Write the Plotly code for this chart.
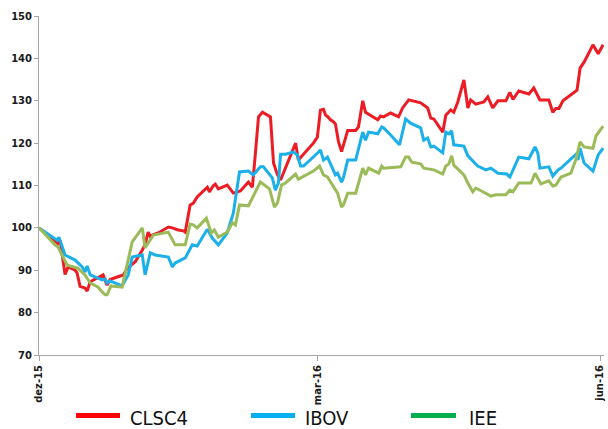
import pandas as pd
import plotly.graph_objects as go

# days since 2015-12-01 and index values (base 100)
clsc4_days = [0.0, 5.2, 6.2, 6.9, 8.5, 9.5, 11.8, 12.4, 13.4, 15.0, 15.7, 16.7, 19.9, 20.9, 22.2, 23.2,
              25.5, 27.5, 28.8, 31.4, 33.7, 34.6, 35.6, 36.3, 37.3, 38.9, 42.2, 43.5, 45.4, 47.1, 47.7,
              49.3, 50.3, 51.6, 54.9, 55.6, 56.9, 57.5, 58.5, 61.4, 63.4, 64.7, 65.7, 68.3, 69.6, 70.6,
              71.6, 72.9, 75.5, 76.5, 77.8, 78.8, 83.7, 84.6, 89.5, 90.8, 91.8, 92.8, 93.5, 94.1, 95.1,
              96.1, 96.7, 97.7, 98.7, 100.7, 103.3, 104.2, 105.6, 106.5, 110.5, 111.4, 112.4, 114.7,
              117.3, 118.6, 120.6, 124.5, 126.8, 127.8, 128.8, 131.7, 132.7, 134.3, 135.3, 136.6, 138.6,
              139.9, 140.8, 142.5, 145.1, 146.4, 148.0, 149.7, 152.3, 153.6, 154.6, 156.5, 159.8, 161.4,
              163.4, 166.3, 167.6, 168.6, 169.6, 170.9, 174.2, 175.5, 176.5, 177.8, 180.7, 182.4, 184.0]
clsc4_vals = [100.0, 97.0, 96.3, 97.0, 89.0, 90.8, 90.0, 89.4, 86.2, 85.8, 85.1, 87.3, 88.6, 88.9, 86.5, 87.8,
              88.4, 88.9, 90.5, 92.0, 94.8, 96.0, 99.0, 98.0, 98.4, 98.8, 100.2, 100.0, 99.5, 99.3, 99.0,
              105.4, 105.8, 107.3, 109.6, 108.5, 110.0, 110.3, 109.2, 110.1, 108.2, 108.5, 108.7, 110.8, 109.6, 117.7,
              126.2, 127.3, 126.2, 115.3, 112.5, 111.3, 120.0, 116.0, 120.0, 121.4, 127.8, 128.0, 126.6, 126.3, 125.5,
              125.0, 124.5, 120.3, 118.0, 123.0, 123.0, 123.8, 130.0, 127.3, 125.5, 126.4, 126.2, 127.1,
              126.2, 128.3, 130.2, 129.5, 128.3, 125.9, 125.7, 122.6, 126.6, 127.8, 127.3, 129.7, 134.9,
              128.3, 130.2, 129.2, 129.7, 130.9, 128.3, 130.0, 130.0, 132.0, 130.3, 132.3, 131.6, 133.0,
              130.2, 130.2, 127.3, 128.2, 128.2, 130.0, 131.8, 132.5, 137.7, 139.1, 143.2, 141.1, 143.2]

ibov_days = [0.0, 5.9, 6.5, 8.5, 11.8, 14.1, 15.0, 15.7, 16.7, 20.6, 21.6, 22.2, 23.2, 27.1, 29.1, 30.4,
             32.4, 33.7, 34.6, 36.3, 37.9, 42.2, 43.5, 44.4, 47.7, 50.0, 51.6, 54.9, 56.5, 58.5, 61.4,
             63.4, 65.4, 68.3, 69.9, 72.2, 73.2, 76.1, 77.1, 78.1, 78.8, 80.4, 83.0, 84.3, 85.3, 86.3,
             91.2, 91.8, 92.8, 94.1, 96.7, 97.4, 98.7, 99.3, 100.7, 103.3, 105.6, 106.5, 107.5, 110.5,
             111.8, 112.4, 114.7, 117.6, 119.6, 121.2, 124.5, 125.5, 126.8, 127.8, 128.8, 131.7, 132.7,
             133.7, 134.6, 135.3, 138.6, 139.9, 143.1, 145.8, 147.4, 149.7, 152.6, 153.6, 156.5, 159.8,
             161.8, 162.7, 163.4, 166.3, 167.6, 169.3, 170.3, 173.5, 175.2, 175.8, 176.5, 177.8, 180.7,
             182.4, 184.0]
ibov_vals = [100.0, 97.1, 97.8, 93.6, 92.4, 90.8, 89.6, 91.0, 88.9, 87.7, 87.9, 87.0, 87.5, 86.3, 88.9, 93.1,
             93.4, 93.6, 88.9, 94.1, 93.6, 93.1, 90.8, 91.7, 92.9, 96.0, 95.7, 99.7, 97.6, 96.0, 98.8,
             103.5, 113.2, 113.4, 112.5, 114.4, 114.4, 111.8, 108.9, 110.6, 117.4, 117.4, 117.9, 117.2, 114.6, 114.6,
             117.9, 118.4, 116.0, 116.7, 112.5, 112.9, 110.8, 111.8, 116.0, 116.0, 122.6, 120.7, 122.6, 122.2,
             123.8, 123.6, 121.9, 119.6, 125.7, 124.7, 123.6, 120.7, 121.2, 119.1, 119.3, 117.7, 122.6,
             122.2, 122.9, 119.6, 119.3, 117.0, 114.6, 113.7, 114.1, 112.9, 112.7, 112.0, 116.7, 116.3,
             119.1, 117.7, 114.1, 114.4, 112.2, 113.7, 114.1, 116.3, 117.4, 116.0, 118.8, 115.3, 113.4,
             117.2, 118.8]

iee_days = [0.0, 5.2, 6.2, 7.8, 9.2, 12.7, 15.0, 16.7, 19.3, 20.6, 21.6, 22.2, 23.5, 27.1, 30.4, 33.7,
            34.6, 37.3, 42.2, 44.4, 47.7, 49.3, 50.3, 51.6, 54.6, 56.2, 57.2, 58.5, 61.4, 63.1, 64.1,
            65.4, 68.3, 72.2, 75.2, 76.8, 77.8, 79.1, 80.4, 83.7, 84.6, 89.5, 91.5, 92.8, 94.1, 97.4,
            98.7, 99.3, 100.7, 103.3, 105.6, 106.5, 107.5, 110.8, 111.8, 112.4, 118.0, 119.6, 120.6,
            121.6, 124.5, 125.5, 128.8, 131.7, 132.7, 133.7, 134.6, 135.3, 138.6, 139.9, 140.8, 141.5,
            142.5, 147.4, 149.0, 152.3, 153.6, 154.6, 156.5, 160.5, 161.8, 163.7, 166.3, 167.6, 168.6,
            170.3, 173.5, 175.2, 176.5, 177.8, 180.7, 181.7, 184.0]
iee_vals = [100.0, 96.0, 95.5, 93.1, 91.2, 90.5, 88.9, 87.0, 86.0, 84.9, 84.2, 84.2, 86.3, 86.0, 96.7, 100.0,
            95.3, 98.3, 99.0, 96.0, 96.0, 100.9, 100.7, 100.0, 102.3, 98.8, 99.5, 97.8, 99.0, 101.2, 100.7,
            105.4, 105.2, 110.8, 109.2, 104.9, 105.9, 110.1, 110.6, 112.7, 111.5, 113.4, 114.6, 112.5, 112.0, 108.2,
            104.9, 105.4, 108.2, 108.2, 114.1, 112.5, 114.1, 112.9, 114.6, 114.1, 114.4, 116.7, 116.7,
            115.5, 115.1, 114.1, 113.7, 112.7, 114.6, 115.1, 117.0, 114.8, 112.5, 110.6, 109.4, 108.5,
            109.4, 107.5, 107.8, 107.8, 108.9, 108.5, 110.6, 110.6, 112.9, 110.4, 111.1, 109.9, 110.1,
            112.0, 112.9, 116.3, 120.3, 119.1, 118.8, 121.7, 124.0]

series_names = ["CLSC4", "IBOV", "IEE"]
line_colors = ["#EC1C24", "#1BB0EA", "#9BBB59"]
legend_colors = ["#FF0000", "#00B0F0", "#00B050"]

tick_dates = ["2015-12-01", "2016-03-01", "2016-06-01"]
tick_text = ["dez-15", "mar-16", "jun-16"]

base = pd.Timestamp("2015-12-01")


def to_dates(days):
    return [base + pd.to_timedelta(d, unit="D") for d in days]


fig = go.Figure()
for name, days, vals, col in zip(series_names, [clsc4_days, ibov_days, iee_days],
                                 [clsc4_vals, ibov_vals, iee_vals], line_colors):
    fig.add_trace(go.Scatter(x=to_dates(days), y=vals, mode="lines", name=name,
                             line=dict(color=col, width=3), showlegend=False, cliponaxis=False))

L, R, T, B = 39, 4, 16, 74
W, H = 608, 429
pw, ph = W - L - R, H - T - B


def px_x(p):
    return (p - L) / pw


def px_y(p):
    return (H - B - p) / ph


legend_swatch = [(76, 120, 128), (251, 295, 303), (411, 456, 467)]
shapes = []
annotations = []
for (x0, x1, tx), name, col in zip(legend_swatch, series_names, legend_colors):
    shapes.append(dict(type="line", xref="paper", yref="paper", x0=px_x(x0), x1=px_x(x1),
                       y0=px_y(415.5), y1=px_y(415.5), line=dict(color=col, width=5)))
    annotations.append(dict(xref="paper", yref="paper", x=px_x(tx), y=px_y(418), text=name,
                            showarrow=False, xanchor="left", yanchor="middle",
                            font=dict(family="DejaVu Sans Condensed, Liberation Sans Narrow, Lato, sans-serif",
                                      size=20, color="#111111")))

axis_col = "#A6A6A6"
fig.update_layout(
    width=W, height=H,
    margin=dict(l=L, r=R, t=T, b=B, pad=0, autoexpand=False),
    paper_bgcolor="white", plot_bgcolor="white",
    shapes=shapes, annotations=annotations,
    xaxis=dict(type="date", range=[base, base + pd.to_timedelta(184.3, unit="D")],
               tickvals=tick_dates, ticktext=tick_text, tickangle=-90, automargin=False,
               showgrid=False, zeroline=False, showline=True, linecolor=axis_col, linewidth=1,
               ticks="outside", ticklen=5, tickcolor=axis_col,
               tickfont=dict(family="DejaVu Sans", size=10, color="#1a1a1a", weight="bold")),
    yaxis=dict(range=[70, 150], dtick=10, tick0=70, automargin=False,
               showgrid=False, zeroline=False, showline=True, linecolor=axis_col, linewidth=1,
               ticks="outside", ticklen=4, tickcolor=axis_col,
               tickfont=dict(family="DejaVu Sans", size=10, color="#1a1a1a", weight="bold")),
)

fig.write_html("out.html", config={"displayModeBar": False},
               post_script="document.body.style.margin='0px';document.body.style.padding='0px';")
